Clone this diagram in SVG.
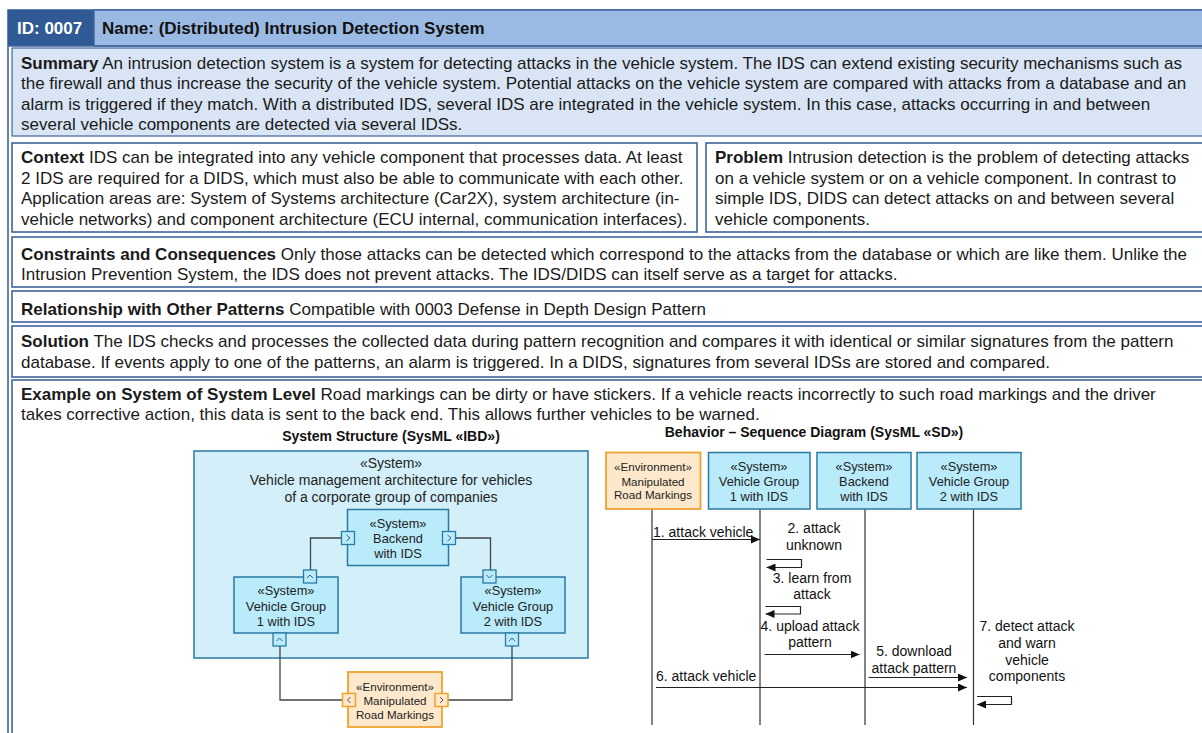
<svg xmlns="http://www.w3.org/2000/svg" width="1202" height="733" viewBox="0 0 1202 733">
<style>
.sec{fill:#ffffff;stroke:#3f659c;stroke-width:1.6}
.t{font-family:"Liberation Sans",Arial,sans-serif;font-size:17px;fill:#1a1a1a}
.b{font-weight:bold}
.h{font-family:"Liberation Sans",Arial,sans-serif;font-size:17px;font-weight:bold}
.ttl{font-family:"Liberation Sans",Arial,sans-serif;font-size:14px;font-weight:bold;fill:#111;text-anchor:middle}
.d{font-family:"Liberation Sans",Arial,sans-serif;font-size:14px;fill:#222;text-anchor:middle}
.ds{font-family:"Liberation Sans",Arial,sans-serif;font-size:12.8px;fill:#222;text-anchor:middle}
.de{font-family:"Liberation Sans",Arial,sans-serif;font-size:11.6px;fill:#222;text-anchor:middle}
.m{font-family:"Liberation Sans",Arial,sans-serif;font-size:14px;fill:#111}
.mc{font-family:"Liberation Sans",Arial,sans-serif;font-size:14px;fill:#111;text-anchor:middle}
.sys{fill:#b9ebfb;stroke:#2a7aa2;stroke-width:1.5}
.env{fill:#fde8cc;stroke:#f0a22e;stroke-width:1.8}
.port{fill:#b9ebfb;stroke:#2a7aa2;stroke-width:1.3}
.eport{fill:#fde8cc;stroke:#f0a22e;stroke-width:1.5}
.chev{fill:none;stroke:#2f5f7a;stroke-width:1}
.echev{fill:none;stroke:#555;stroke-width:1}
.conn{fill:none;stroke:#444;stroke-width:1.3}
.life{fill:none;stroke:#333;stroke-width:1.2}
.msg{fill:none;stroke:#222;stroke-width:1.2}
</style>
<defs>
<marker id="ah" markerWidth="9" markerHeight="8" refX="9" refY="4" orient="auto" markerUnits="userSpaceOnUse">
<path d="M0,0 L9,4 L0,8 Z" fill="#111"/>
</marker>
</defs>
<rect width="1202" height="733" fill="#ffffff"/>
<!-- outer frame -->
<rect x="8" y="10" width="1250" height="800" fill="none" stroke="#3f659c" stroke-width="1.6"/>
<!-- header -->
<g id="header">
<rect x="8" y="10" width="86" height="36" fill="#2f5a96"/>
<rect x="94" y="10" width="1120" height="36" fill="#9bbae3" stroke="#3f659c" stroke-width="1.4"/>
<line x1="8" y1="46" x2="1202" y2="46" stroke="#3f659c" stroke-width="1.6"/>
<text x="17" y="34" class="h" fill="#ffffff">ID: 0007</text>
<text x="102" y="34" class="h" fill="#111111">Name: (Distributed) Intrusion Detection System</text>
</g>
<g id="summary">
<rect x="12" y="48" width="1250" height="88" fill="#d9e5f5" stroke="#3f659c" stroke-width="1.2"/>
<text class="t" x="21" y="68.5"><tspan class="b">Summary</tspan> An intrusion detection system is a system for detecting attacks in the vehicle system. The IDS can extend existing security mechanisms such as</text>
<text class="t" x="21" y="89">the firewall and thus increase the security of the vehicle system. Potential attacks on the vehicle system are compared with attacks from a database and an</text>
<text class="t" x="21" y="109.5">alarm is triggered if they match. With a distributed IDS, several IDS are integrated in the vehicle system. In this case, attacks occurring in and between</text>
<text class="t" x="21" y="130">several vehicle components are detected via several IDSs.</text>
</g>
<g id="context">
<rect x="12" y="143" width="685" height="89" class="sec"/>
<text class="t" x="21" y="163"><tspan class="b">Context</tspan> IDS can be integrated into any vehicle component that processes data. At least</text>
<text class="t" x="21" y="183.5">2 IDS are required for a DIDS, which must also be able to communicate with each other.</text>
<text class="t" x="21" y="204">Application areas are: System of Systems architecture (Car2X), system architecture (in-</text>
<text class="t" x="21" y="224.5">vehicle networks) and component architecture (ECU internal, communication interfaces).</text>
</g>
<g id="problem">
<rect x="706" y="143" width="560" height="89" class="sec"/>
<text class="t" x="715" y="163"><tspan class="b">Problem</tspan> Intrusion detection is the problem of detecting attacks</text>
<text class="t" x="715" y="183.5">on a vehicle system or on a vehicle component. In contrast to</text>
<text class="t" x="715" y="204">simple IDS, DIDS can detect attacks on and between several</text>
<text class="t" x="715" y="224.5">vehicle components.</text>
</g>
<g id="constraints">
<rect x="12" y="237" width="1250" height="50" class="sec"/>
<text class="t" x="21" y="259.5"><tspan class="b">Constraints and Consequences</tspan> Only those attacks can be detected which correspond to the attacks from the database or which are like them. Unlike the</text>
<text class="t" x="21" y="280">Intrusion Prevention System, the IDS does not prevent attacks. The IDS/DIDS can itself serve as a target for attacks.</text>
</g>
<g id="relationship">
<rect x="12" y="291" width="1250" height="31" class="sec"/>
<text class="t" x="21" y="314.5"><tspan class="b">Relationship with Other Patterns</tspan> Compatible with 0003 Defense in Depth Design Pattern</text>
</g>
<g id="solution">
<rect x="12" y="326" width="1250" height="51" class="sec"/>
<text class="t" x="21" y="347"><tspan class="b">Solution</tspan> The IDS checks and processes the collected data during pattern recognition and compares it with identical or similar signatures from the pattern</text>
<text class="t" x="21" y="367.5">database. If events apply to one of the patterns, an alarm is triggered. In a DIDS, signatures from several IDSs are stored and compared.</text>
</g>
<g id="example">
<rect x="12" y="380" width="1250" height="420" class="sec"/>
<text class="t" x="21" y="400"><tspan class="b">Example on System of System Level</tspan> Road markings can be dirty or have stickers. If a vehicle reacts incorrectly to such road markings and the driver</text>
<text class="t" x="21" y="420">takes corrective action, this data is sent to the back end. This allows further vehicles to be warned.</text>
</g>

<!-- IBD -->
<text class="ttl" x="391" y="441">System Structure (SysML «IBD»)</text>
<g id="ibd-system">
<rect x="194" y="451" width="394" height="207" fill="#d3eff9" stroke="#2a7aa2" stroke-width="1.5"/>
<text class="d" x="391" y="467.5">«System»</text>
<text class="d" x="391" y="484.5">Vehicle management architecture for vehicles</text>
<text class="d" x="391" y="501.5">of a corporate group of companies</text>
</g>
<g id="ibd-connectors">
<polyline class="conn" points="341.5,538 310.5,538 310.5,570"/>
<polyline class="conn" points="455.5,538 490.5,538 490.5,570"/>
<polyline class="conn" points="280,646 280,700 342.5,700"/>
<polyline class="conn" points="512,646 512,700 448,700"/>
</g>
<g id="ibd-backend">
<rect x="347.5" y="509.5" width="101" height="56" class="sys"/>
<text class="ds" x="398" y="527.5">«System»</text>
<text class="ds" x="398" y="542.5">Backend</text>
<text class="ds" x="398" y="558">with IDS</text>
<rect x="341.5" y="531.5" width="13" height="13" class="port"/>
<polyline class="chev" points="346.5,535 350,538 346.5,541"/>
<rect x="442.5" y="531.5" width="13" height="13" class="port"/>
<polyline class="chev" points="447.5,535 451,538 447.5,541"/>
</g>
<g id="ibd-vg1">
<rect x="234" y="577" width="104" height="56" class="sys"/>
<text class="ds" x="286" y="595">«System»</text>
<text class="ds" x="286" y="610.5">Vehicle Group</text>
<text class="ds" x="286" y="626">1 with IDS</text>
<rect x="303.5" y="570" width="13" height="13" class="port"/>
<polyline class="chev" points="307,578 310,575 313,578"/>
<rect x="273" y="633" width="13" height="13" class="port"/>
<polyline class="chev" points="276.5,641 279.5,638 282.5,641"/>
</g>
<g id="ibd-vg2">
<rect x="461" y="577" width="104" height="56" class="sys"/>
<text class="ds" x="513" y="595">«System»</text>
<text class="ds" x="513" y="610.5">Vehicle Group</text>
<text class="ds" x="513" y="626">2 with IDS</text>
<rect x="483" y="570" width="13" height="13" class="port"/>
<polyline class="chev" points="486.5,575 489.5,578 492.5,575"/>
<rect x="505.5" y="633" width="13" height="13" class="port"/>
<polyline class="chev" points="509,641 512,638 515,641"/>
</g>
<g id="ibd-env">
<rect x="348" y="672" width="94" height="55" class="env"/>
<text class="de" x="395" y="691">«Environment»</text>
<text class="de" x="395" y="705">Manipulated</text>
<text class="de" x="395" y="718.5">Road Markings</text>
<rect x="342.5" y="693.5" width="13" height="13" class="eport"/>
<polyline class="echev" points="350.5,697 347.5,700 350.5,703"/>
<rect x="435" y="693.5" width="13" height="13" class="eport"/>
<polyline class="echev" points="440,697 443,700 440,703"/>
</g>

<!-- Sequence diagram -->
<text class="ttl" x="814" y="437">Behavior – Sequence Diagram (SysML «SD»)</text>
<g id="sd-lifelines">
<line class="life" x1="652" y1="509" x2="652" y2="725"/>
<line class="life" x1="760" y1="509" x2="760" y2="725"/>
<line class="life" x1="865" y1="509" x2="865" y2="725"/>
<line class="life" x1="973.5" y1="509" x2="973.5" y2="725"/>
</g>
<g id="sd-env">
<rect x="606" y="452.5" width="94.5" height="56.5" class="env"/>
<text class="de" x="653" y="471">«Environment»</text>
<text class="de" x="653" y="485.5">Manipulated</text>
<text class="de" x="653" y="498.5">Road Markings</text>
</g>
<g id="sd-vg1">
<rect x="708.5" y="452.5" width="101.5" height="56.5" class="sys"/>
<text class="ds" x="759" y="470.5">«System»</text>
<text class="ds" x="759" y="486">Vehicle Group</text>
<text class="ds" x="759" y="501">1 with IDS</text>
</g>
<g id="sd-backend">
<rect x="817" y="452.5" width="94" height="56.5" class="sys"/>
<text class="ds" x="864" y="470.5">«System»</text>
<text class="ds" x="864" y="486">Backend</text>
<text class="ds" x="864" y="501">with IDS</text>
</g>
<g id="sd-vg2">
<rect x="917" y="452.5" width="104" height="56.5" class="sys"/>
<text class="ds" x="969" y="470.5">«System»</text>
<text class="ds" x="969" y="486">Vehicle Group</text>
<text class="ds" x="969" y="501">2 with IDS</text>
</g>
<g id="sd-messages">
<line class="msg" x1="652" y1="539.5" x2="760" y2="539.5" marker-end="url(#ah)"/>
<text class="m" x="653" y="536.5">1. attack vehicle</text>
<text class="mc" x="814" y="533">2. attack</text>
<text class="mc" x="814" y="549.5">unknown</text>
<polyline class="msg" points="766.5,559.5 801.5,559.5 801.5,567.5 766.5,567.5" marker-end="url(#ah)"/>
<text class="mc" x="812" y="583">3. learn from</text>
<text class="mc" x="812" y="599">attack</text>
<polyline class="msg" points="765.5,606.5 800.5,606.5 800.5,614 765.5,614" marker-end="url(#ah)"/>
<text class="mc" x="810" y="631">4. upload attack</text>
<text class="mc" x="810" y="646.5">pattern</text>
<line class="msg" x1="764.5" y1="654.5" x2="859.5" y2="654.5" marker-end="url(#ah)"/>
<text class="mc" x="914" y="656">5. download</text>
<text class="mc" x="914" y="672.5">attack pattern</text>
<line class="msg" x1="868.5" y1="677.5" x2="967" y2="677.5" marker-end="url(#ah)"/>
<text class="m" x="656" y="681">6. attack vehicle</text>
<line class="msg" x1="656" y1="687.5" x2="967" y2="687.5" marker-end="url(#ah)"/>
<text class="mc" x="1027" y="630.5">7. detect attack</text>
<text class="mc" x="1027" y="647.5">and warn</text>
<text class="mc" x="1027" y="664.5">vehicle</text>
<text class="mc" x="1027" y="681">components</text>
<polyline class="msg" points="977,696.5 1011.5,696.5 1011.5,704.5 977,704.5" marker-end="url(#ah)"/>
</g>
</svg>
